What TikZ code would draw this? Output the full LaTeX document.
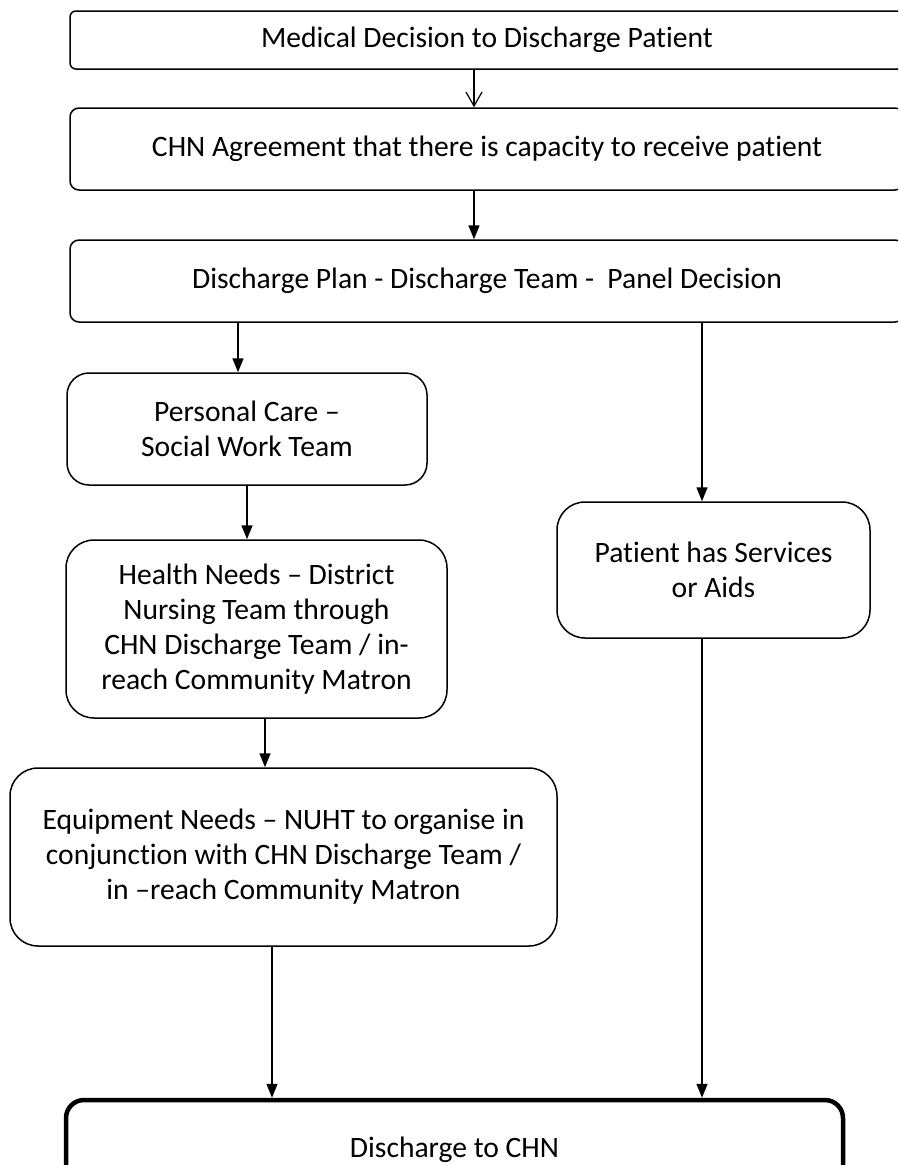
\documentclass[tikz,border=0pt]{standalone}
\usepackage{fontspec}
\setmainfont{Carlito}[Ligatures=NoCommon]
\usetikzlibrary{
    arrows.meta,
    positioning,
    calc
}
\tikzset{
    % --- Rounded process box ---
    flow box/.style = {
        rectangle, draw, line width=1.5pt,
        rounded corners=22pt, align=center,
        font=\fontsize{29.6}{35}\selectfont, inner sep=0pt
    },
    % --- Full-width stage box (runs off the right edge) ---
    wide box/.style = {
        flow box, rounded corners=9pt,
        minimum width=834pt
    },
    % --- Final box, heavy border ---
    end box/.style = {
        flow box, line width=4.5pt, rounded corners=18pt
    },
    % --- Connections ---
    flow arrow/.style = {
        -{Triangle[length=14pt, width=11pt]}, line width=1.5pt
    },
    open arrow/.style = {
        -{Straight Barb[length=14pt, width=16pt]}, line width=1.2pt
    }
}

\begin{document}
\begin{tikzpicture}[x=1pt, y=-1pt]
\useasboundingbox (0,0) rectangle (898,1165);
\clip (0,0) rectangle (898,1165);

% ---------------------------------------------------------
% Stages across the page
% ---------------------------------------------------------
\node[wide box, minimum height=58pt, rounded corners=6pt] (decide) at (487,40)
    {Medical Decision to Discharge Patient};
\node[wide box, minimum height=82pt] (agree) at (487,149)
    {CHN Agreement that there is capacity to receive patient};
\node[wide box, minimum height=82pt] (plan) at (487,281)
    {Discharge Plan - Discharge Team -\ \ Panel Decision};

% ---------------------------------------------------------
% Left branch
% ---------------------------------------------------------
\node[flow box, minimum width=360pt, minimum height=112pt] (care) at (247,429)
    {Personal Care –\\Social Work Team};
\node[flow box, minimum width=381pt, minimum height=178pt, rounded corners=28pt] (health) at (256.5,629)
    {Health Needs – District\\Nursing Team through\\CHN Discharge Team / in-\\reach Community Matron};
\node[flow box, minimum width=547pt, minimum height=178pt, rounded corners=28pt] (equip) at (283.5,857)
    {Equipment Needs – NUHT to organise in\\conjunction with CHN Discharge Team /\\in –reach Community Matron};

% ---------------------------------------------------------
% Right branch
% ---------------------------------------------------------
\node[flow box, minimum width=313pt, minimum height=136pt, rounded corners=28pt] (services) at (713.5,570)
    {Patient has Services\\or Aids};

% ---------------------------------------------------------
% Outcome
% ---------------------------------------------------------
\node[end box, minimum width=777pt, minimum height=100pt] (final) at (454.5,1150)
    {Discharge to CHN};

% ---------------------------------------------------------
% Connections
% ---------------------------------------------------------
\draw[open arrow] ([xshift=-13pt]decide.south) -- ([xshift=-13pt]agree.north);
\draw[flow arrow] ([xshift=-13pt]agree.south) -- ([xshift=-13pt]plan.north);
\draw[flow arrow] ([xshift=-9pt]care.north |- plan.south) -- ([xshift=-9pt]care.north);
\draw[flow arrow] (care.south) -- (care.south |- health.north);
\draw[flow arrow] ([xshift=8.5pt]health.south) -- ([xshift=8.5pt]health.south |- equip.north);
\draw[flow arrow] ([xshift=-11.5pt]equip.south) -- ([xshift=-11.5pt]equip.south |- final.north);
\draw[flow arrow] ([xshift=-11.5pt]services.north |- plan.south) -- ([xshift=-11.5pt]services.north);
\draw[flow arrow] ([xshift=-11.5pt]services.south) -- ([xshift=-11.5pt]services.south |- final.north);

\end{tikzpicture}
\end{document}
